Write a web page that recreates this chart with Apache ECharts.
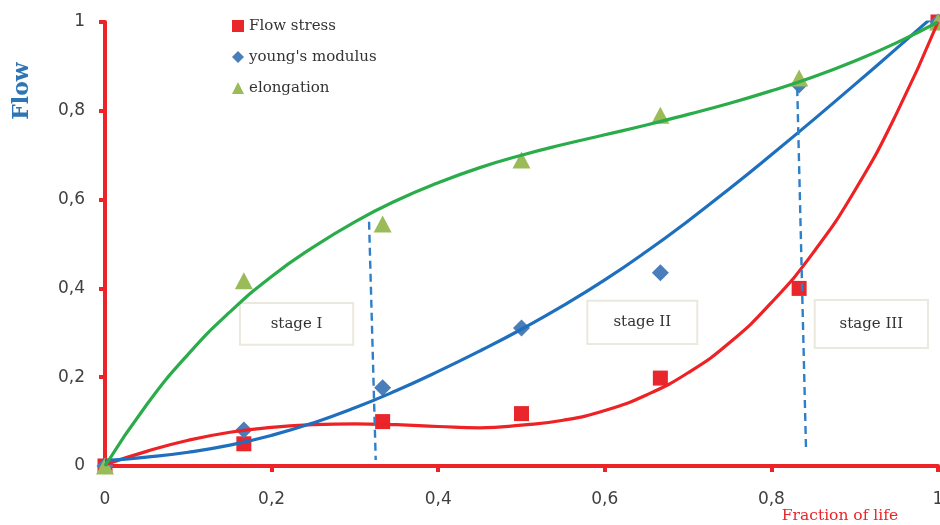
<!DOCTYPE html>
<html>
<head>
<meta charset="utf-8">
<script src="https://cdn.jsdelivr.net/npm/echarts@6/dist/echarts.min.js"></script>
<style>
  html, body { margin: 0; padding: 0; background: #fff; }
  #chart { width: 940px; height: 525px; }
</style>
</head>
<body>
<div id="chart"></div>
<script>
// Measured points (fraction of life vs normalised property)
const fractionOfLife = [0, 0.1667, 0.3333, 0.5, 0.6667, 0.8333, 1];
const flowStress     = [0, 0.05, 0.10, 0.118, 0.198, 0.40, 1.0];
const youngsModulus  = [0, 0.081, 0.176, 0.311, 0.435, 0.858, 1.0];
const elongation     = [0, 0.417, 0.545, 0.689, 0.79, 0.874, 1.0];

// Trend curves, sampled every 0.05 along the fraction of life
const trendX = [0, 0.05, 0.1, 0.15, 0.2, 0.25, 0.3, 0.35, 0.4, 0.45, 0.5,
                0.55, 0.6, 0.65, 0.7, 0.75, 0.8, 0.85, 0.9, 0.95, 1.0];
const flowStressTrend = [0.003, 0.033, 0.058, 0.076, 0.087, 0.093, 0.095, 0.093, 0.089, 0.086, 0.092,
                         0.103, 0.125, 0.16, 0.21, 0.278, 0.368, 0.48, 0.62, 0.793, 1.0];
const youngsTrend     = [0.012, 0.02, 0.031, 0.047, 0.069, 0.097, 0.131, 0.17, 0.213, 0.259, 0.308,
                         0.361, 0.419, 0.483, 0.552, 0.625, 0.701, 0.779, 0.859, 0.94, 1.022];
const elongTrend      = [0, 0.138, 0.252, 0.347, 0.427, 0.493, 0.55, 0.598, 0.638, 0.672, 0.70,
                         0.724, 0.746, 0.768, 0.792, 0.817, 0.845, 0.876, 0.912, 0.953, 1.0];

// Stage boundaries (dashed), as [x, y] end points
const boundary1 = [[0.317, 0.55], [0.325, 0.0135]];
const boundary2 = [[0.831, 0.851], [0.8415, 0.043]];

// Stage labels and their boxes: [x0, x1, yTop, yBottom]
const stageNames = ['stage I', 'stage II', 'stage III'];
const stageBoxes = [
  [0.162, 0.298, 0.367, 0.273],
  [0.579, 0.711, 0.372, 0.275],
  [0.852, 0.988, 0.374, 0.266]
];

const fmt = v => String(Math.round(v * 10) / 10).replace('.', ',');

const RED = '#ec2327';
const SERIF = 'DejaVu Serif';

const zip = (xs, ys) => xs.map((x, i) => [x, ys[i]]);

const chart = echarts.init(document.getElementById('chart'));

const axisCommon = {
  type: 'value', min: 0, max: 1, interval: 0.2,
  splitLine: { show: false },
  axisLine: { show: true, onZero: false, lineStyle: { color: RED, width: 4 } },
  axisTick: { show: true, inside: false, length: 6, lineStyle: { color: RED, width: 4 } },
  axisLabel: {
    color: '#404040', fontFamily: 'DejaVu Sans', fontSize: 17,
    formatter: fmt, showMinLabel: true, showMaxLabel: true, hideOverlap: false
  }
};

chart.setOption({
  animation: false,
  backgroundColor: '#ffffff',
  grid: { left: 105, right: 2, top: 22, bottom: 59, containLabel: false, outerBoundsMode: 'none' },
  xAxis: Object.assign({}, axisCommon, {
    axisLabel: Object.assign({}, axisCommon.axisLabel, { margin: 25 })
  }),
  yAxis: Object.assign({}, axisCommon, {
    axisLabel: Object.assign({}, axisCommon.axisLabel, { margin: 20 })
  }),
  legend: {
    orient: 'vertical', left: 227, top: 12,
    itemWidth: 12, itemHeight: 12, itemGap: 13,
    textStyle: { fontFamily: SERIF, fontSize: 15, color: '#333', lineHeight: 18 },
    data: [
      { name: 'Flow stress', icon: 'rect' },
      { name: "young's modulus", icon: 'diamond' },
      { name: 'elongation', icon: 'triangle' }
    ]
  },
  series: [
    { name: 'Flow stress', type: 'scatter', z: 2, symbol: 'rect', symbolSize: 15,
      itemStyle: { color: '#e8262b', opacity: 1 }, data: zip(fractionOfLife, flowStress) },
    { name: "young's modulus", type: 'scatter', z: 2, symbol: 'diamond', symbolSize: 17,
      itemStyle: { color: '#4a7ebb', opacity: 1 }, data: zip(fractionOfLife, youngsModulus) },
    { name: 'elongation', type: 'scatter', z: 2, symbol: 'triangle', symbolSize: [18, 17],
      itemStyle: { color: '#9bbb59', opacity: 1 }, data: zip(fractionOfLife, elongation) },
    { name: 'Flow stress trend', type: 'line', z: 3, smooth: 0.5, showSymbol: false, clip: true,
      lineStyle: { color: '#ee2224', width: 3.2 }, data: zip(trendX, flowStressTrend) },
    { name: "young's modulus trend", type: 'line', z: 3, smooth: 0.5, showSymbol: false, clip: true,
      lineStyle: { color: '#1e6fbd', width: 3.2 }, data: zip(trendX, youngsTrend) },
    { name: 'elongation trend', type: 'line', z: 3, smooth: 0.5, showSymbol: false, clip: true,
      lineStyle: { color: '#2bac4a', width: 3.2 }, data: zip(trendX, elongTrend) },
    { name: 'boundary I-II', type: 'line', z: 4, showSymbol: false,
      lineStyle: { color: '#2f7fc8', width: 2.4, type: [8, 5] }, data: boundary1 },
    { name: 'boundary II-III', type: 'line', z: 4, showSymbol: false,
      lineStyle: { color: '#2f7fc8', width: 2.4, type: [8, 5] }, data: boundary2 }
  ]
});

// Stage boxes placed in data space, plus axis titles
const graphics = stageBoxes.map((b, i) => {
  const p0 = chart.convertToPixel({ gridIndex: 0 }, [b[0], b[2]]);
  const p1 = chart.convertToPixel({ gridIndex: 0 }, [b[1], b[3]]);
  return {
    type: 'group', z: 20,
    children: [
      { type: 'rect', shape: { x: p0[0], y: p0[1], width: p1[0] - p0[0], height: p1[1] - p0[1] },
        style: { fill: '#ffffff', stroke: '#ebe8dd', lineWidth: 2 } },
      { type: 'text', x: (p0[0] + p1[0]) / 2, y: (p0[1] + p1[1]) / 2,
        style: { text: stageNames[i], font: '15px "' + SERIF + '"', fill: '#333',
                 align: 'center', verticalAlign: 'middle' } }
    ]
  };
});
graphics.push({
  type: 'text', z: 20, x: 22, y: 91, rotation: Math.PI / 2,
  style: { text: 'Flow', font: 'bold 22px "' + SERIF + '"', fill: '#2e75b6',
           align: 'center', verticalAlign: 'middle' }
});
graphics.push({
  type: 'text', z: 20, x: 840, y: 516,
  style: { text: 'Fraction of life', font: '15.5px "' + SERIF + '"', fill: RED,
           align: 'center', verticalAlign: 'middle' }
});
chart.setOption({ graphic: graphics });
</script>
</body>
</html>
